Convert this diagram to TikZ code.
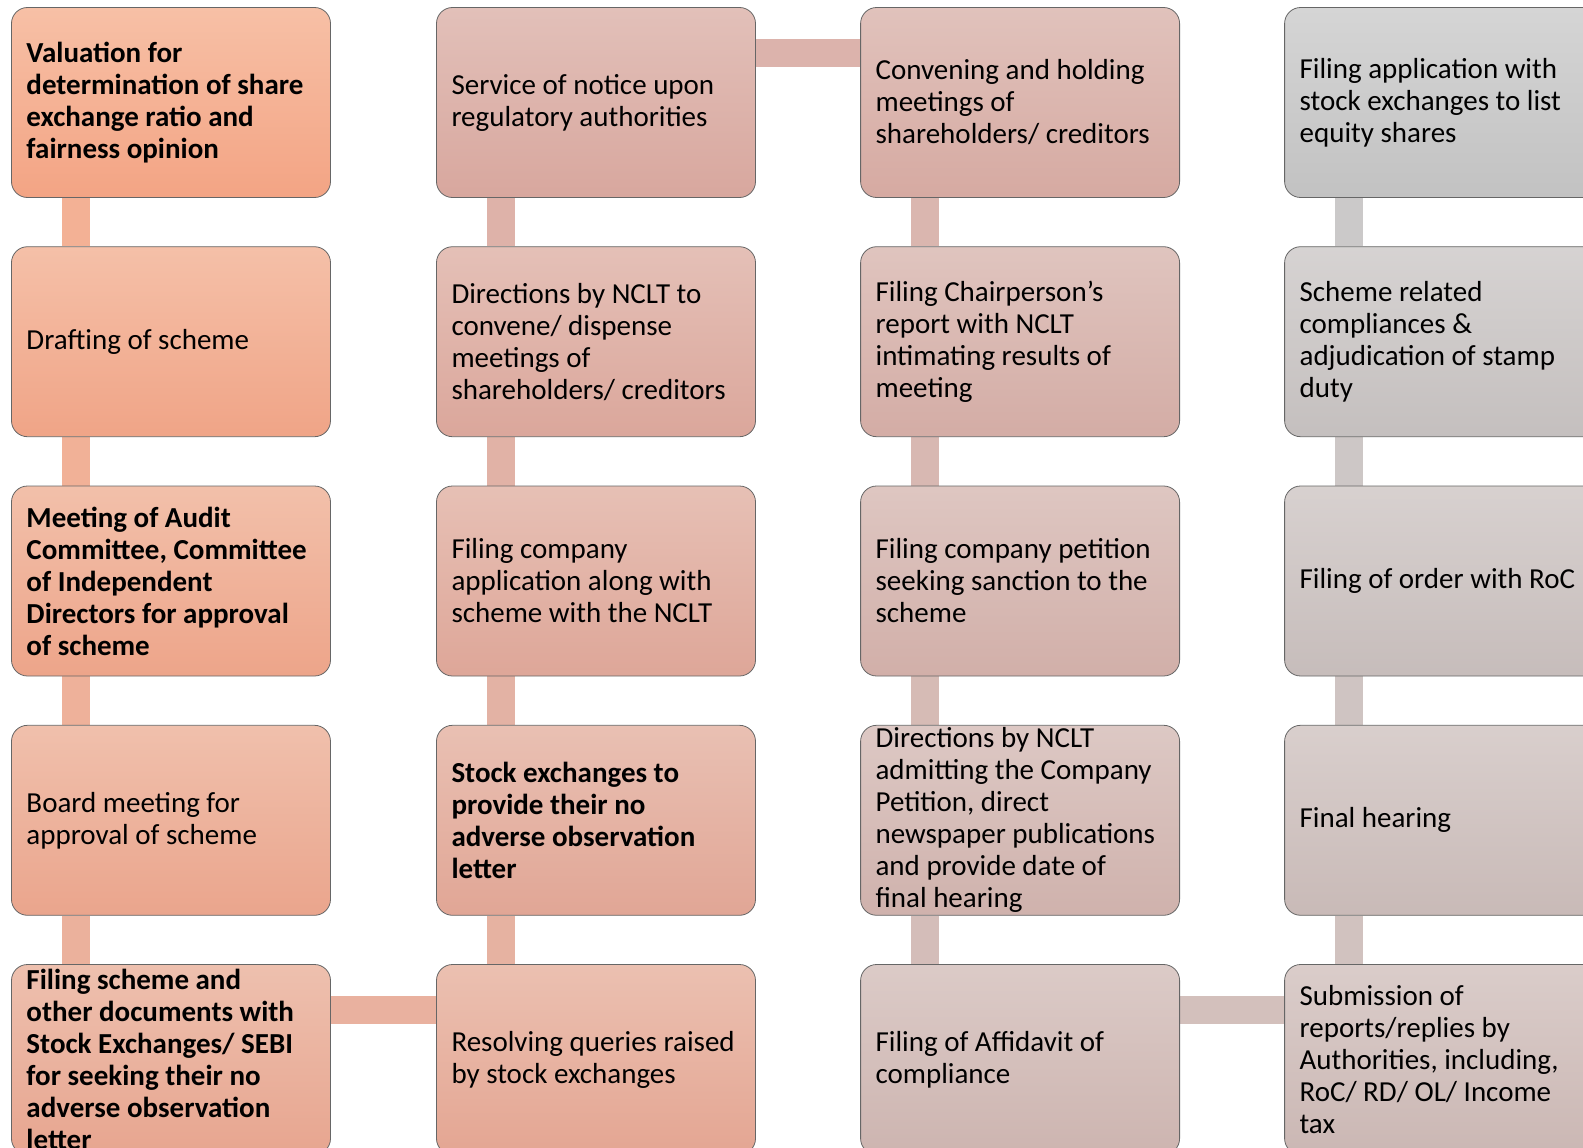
\documentclass[tikz,border=0pt]{standalone}
\usepackage{fontspec}
\setmainfont{Carlito}
\usetikzlibrary{backgrounds}
\definecolor{tA}{RGB}{247,192,166}\definecolor{uA}{RGB}{243,164,132}
\definecolor{tB}{RGB}{226,192,185}\definecolor{uB}{RGB}{216,167,158}
\definecolor{tC}{RGB}{213,213,213}\definecolor{uC}{RGB}{194,194,194}
\newcommand\defbox[4]{\colorlet{t#1}{t#3!#2!t#4}\colorlet{u#1}{u#3!#2!u#4}\colorlet{m#1}{t#1!45!u#1}}
\defbox{1}{0}{B}{A}\defbox{2}{11}{B}{A}\defbox{3}{22}{B}{A}\defbox{4}{33}{B}{A}
\defbox{5}{44}{B}{A}\defbox{6}{56}{B}{A}\defbox{7}{67}{B}{A}\defbox{8}{78}{B}{A}
\defbox{9}{89}{B}{A}\defbox{10}{100}{B}{A}
\defbox{11}{10}{C}{B}\defbox{12}{20}{C}{B}\defbox{13}{30}{C}{B}\defbox{14}{40}{C}{B}
\defbox{15}{50}{C}{B}\defbox{16}{60}{C}{B}\defbox{17}{70}{C}{B}\defbox{18}{80}{C}{B}
\defbox{19}{90}{C}{B}\defbox{20}{100}{C}{B}
\newcommand\boxfont{\fontsize{29}{32}\selectfont}
\begin{document}
\begin{tikzpicture}[x=1pt,y=-1pt,
  box/.style={draw=black!60, line width=0.8pt, rounded corners=16pt,
    minimum width=319pt, minimum height=190pt, text width=289pt,
    inner xsep=15pt, inner ysep=0pt, align=flush left, anchor=north west,
    font=\boxfont, top color=t#1, bottom color=u#1},
  bold/.style={font=\bfseries\boxfont},
  bar/.style={line width=28.3pt, draw=#1}]
\useasboundingbox (0,0) rectangle (1583,1148);
\clip (0,0) rectangle (1583,1148);
% column 1
\node[box=1,bold] (b1) at (11.1,7.1) {Valuation for\\determination of share\\exchange ratio and\\fairness opinion};
\node[box=2] (b2) at (11.1,246.3) {Drafting of scheme};
\node[box=3,bold] (b3) at (11.1,485.6) {Meeting of Audit\\Committee, Committee\\of Independent\\Directors for approval\\of scheme};
\node[box=4] (b4) at (11.1,724.9) {Board meeting for\\approval of scheme};
\node[box=5,bold] (b5) at (11.1,964.1) {Filing scheme and\\other documents with\\Stock Exchanges/ SEBI\\for seeking their no\\adverse observation\\letter};
% column 2
\node[box=6] (b6) at (436.1,964.1) {Resolving queries raised\\by stock exchanges};
\node[box=7,bold] (b7) at (436.1,724.9) {Stock exchanges to\\provide their no\\adverse observation\\letter};
\node[box=8] (b8) at (436.1,485.6) {Filing company\\application along with\\scheme with the NCLT};
\node[box=9] (b9) at (436.1,246.3) {Directions by NCLT to\\convene/ dispense\\meetings of\\shareholders/ creditors};
\node[box=10] (b10) at (436.1,7.1) {Service of notice upon\\regulatory authorities};
% column 3
\node[box=11] (b11) at (860.2,7.1) {Convening and holding\\meetings of\\shareholders/ creditors};
\node[box=12] (b12) at (860.2,246.3) {Filing Chairperson’s\\report with NCLT\\intimating results of\\meeting};
\node[box=13] (b13) at (860.2,485.6) {Filing company petition\\seeking sanction to the\\scheme};
\node[box=14] (b14) at (860.2,724.9) {Directions by NCLT\\admitting the Company\\Petition, direct\\newspaper publications\\and provide date of\\final hearing};
\node[box=15] (b15) at (860.2,964.1) {Filing of Affidavit of\\compliance};
% column 4
\node[box=16] (b16) at (1284.2,964.1) {Submission of\\reports/replies by\\Authorities, including,\\RoC/ RD/ OL/ Income\\tax};
\node[box=17] (b17) at (1284.2,724.9) {Final hearing};
\node[box=18] (b18) at (1284.2,485.6) {Filing of order with RoC};
\node[box=19] (b19) at (1284.2,246.3) {Scheme related\\compliances \&\\adjudication of stamp\\duty};
\node[box=20] (b20) at (1284.2,7.1) {Filing application with\\stock exchanges to list\\equity shares};
\begin{scope}[on background layer]
% vertical bars
\foreach \a/\b/\c in {b1/b2/m1!50!m2, b2/b3/m2!50!m3, b3/b4/m3!50!m4, b4/b5/m4!50!m5,
  b7/b6/m6!50!m7, b8/b7/m7!50!m8, b9/b8/m8!50!m9, b10/b9/m9!50!m10,
  b11/b12/m11!50!m12, b12/b13/m12!50!m13, b13/b14/m13!50!m14, b14/b15/m14!50!m15,
  b17/b16/m16!50!m17, b18/b17/m17!50!m18, b19/b18/m18!50!m19, b20/b19/m19!50!m20}
  \draw[bar=\c] ([xshift=64.6pt]\a.south west) -- ([xshift=64.6pt]\b.north west);
% horizontal bars
\draw[bar=m5!50!m6] ([yshift=-46pt]b5.north east) -- ([yshift=-46pt]b6.north west);
\draw[bar=m10!50!m11] ([yshift=-46pt]b10.north east) -- ([yshift=-46pt]b11.north west);
\draw[bar=m15!50!m16] ([yshift=-46pt]b15.north east) -- ([yshift=-46pt]b16.north west);
\end{scope}
\end{tikzpicture}
\end{document}
